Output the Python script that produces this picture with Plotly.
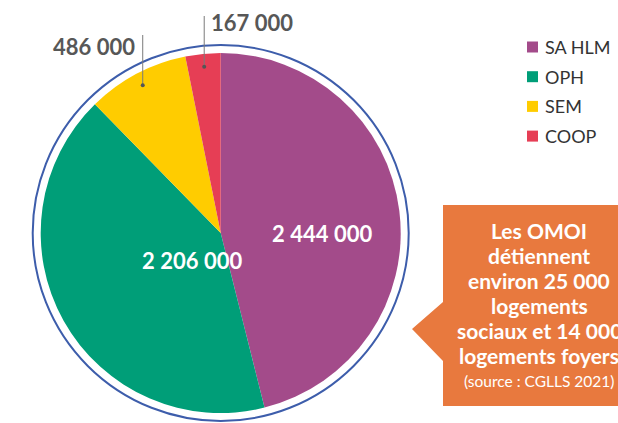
import math
import plotly.graph_objects as go

# Parc social par famille d'organismes
categories = ["SA HLM", "OPH", "SEM", "COOP"]
logements = [2444000, 2206000, 486000, 167000]
colors = ["#A34B8A", "#009E78", "#FFCC00", "#E63E55"]

W, H = 618, 423
CX, CY, R = 220.7, 233.0, 180.0   # pie centre / radius in pixels


def px(x):
    return x / W


def py(y):
    return (H - y) / H


def fmt(v):
    return f"{v:,}".replace(",", "\u202f")


fig = go.Figure()
fig.add_trace(go.Pie(
    labels=categories,
    values=logements,
    marker=dict(colors=colors, line=dict(width=0)),
    sort=False,
    direction="clockwise",
    rotation=0,
    textinfo="none",
    hoverinfo="label+value",
    showlegend=False,
    domain=dict(x=[px(CX - R), px(CX + R)], y=[py(CY + R), py(CY - R)]),
))

# outer ring
RING = 188
fig.add_shape(type="circle", xref="paper", yref="paper",
              x0=px(CX - RING), x1=px(CX + RING),
              y0=py(CY + RING), y1=py(CY - RING),
              line=dict(color="#3D5DAB", width=2))

annotations = []
# values written inside the two large slices
inside_pos = {0: (322, 233), 1: (140, 260)}
for i, (x, y) in inside_pos.items():
    annotations.append(dict(x=px(x), y=py(y), xref="paper", yref="paper",
                            text=f"<b>{fmt(logements[i])}</b>", showarrow=False,
                            font=dict(family="Lato", size=22, color="white")))

# leader lines for the two small slices, anchored on each slice's mid angle
total = sum(logements)
cum = 0
mids = []
for v in logements:
    mids.append((cum + v / 2) / total * 360)
    cum += v
leaders = {2: dict(top=35, label_x=137, label_y=46, anchor="right"),
           3: dict(top=16, label_x=209, label_y=23, anchor="left")}
for i, d in leaders.items():
    a = math.radians(mids[i])
    dx = CX + math.sin(a) * R * 167 / 180
    dy = CY - math.cos(a) * R * 167 / 180
    fig.add_shape(type="line", xref="paper", yref="paper",
                  x0=px(dx), x1=px(dx), y0=py(dy), y1=py(d["top"]),
                  line=dict(color="#7A7A7A", width=1))
    fig.add_shape(type="circle", xref="paper", yref="paper",
                  x0=px(dx - 2), x1=px(dx + 2), y0=py(dy + 2), y1=py(dy - 2),
                  fillcolor="#555555", line=dict(width=0))
    annotations.append(dict(x=px(d["label_x"]), y=py(d["label_y"]),
                            xref="paper", yref="paper",
                            xanchor=d["anchor"], yanchor="middle",
                            text=f"<b>{fmt(logements[i])}</b>", showarrow=False,
                            font=dict(family="Lato", size=22, color="#575757")))

# legend: coloured squares with category names
for k, (name, col) in enumerate(zip(categories, colors)):
    yc = 47 + 29.7 * k
    fig.add_shape(type="rect", xref="paper", yref="paper",
                  x0=px(527), x1=px(538), y0=py(yc + 5.5), y1=py(yc - 5.5),
                  fillcolor=col, line=dict(width=0))
    annotations.append(dict(x=px(543), y=py(yc), xref="paper", yref="paper",
                            text=name, showarrow=False,
                            xanchor="left", yanchor="middle",
                            font=dict(family="Lato", size=18, color="#333333")))

# callout box
pts = [(443, 205), (630, 205), (630, 406), (443, 406), (443, 361),
       (412, 329), (443, 302)]
path = "M " + " L ".join(f"{px(x)},{py(y)}" for x, y in pts) + " Z"
fig.add_shape(type="path", xref="paper", yref="paper", path=path,
              fillcolor="#E8793E", line=dict(width=0), layer="above")

callout_lines = ["Les OMOI", "détiennent", "environ 25 000", "logements",
                 "sociaux et 14 000", "logements foyers"]
for k, line in enumerate(callout_lines):
    annotations.append(dict(x=px(539), y=py(230 + 25 * k), xref="paper", yref="paper",
                            text=f"<b>{line}</b>", showarrow=False,
                            xanchor="center", yanchor="middle",
                            font=dict(family="Lato", size=21, color="white")))
annotations.append(dict(x=px(539), y=py(381), xref="paper", yref="paper",
                        text="(source : CGLLS 2021)", showarrow=False,
                        xanchor="center", yanchor="middle",
                        font=dict(family="Lato", size=15.5, color="white")))

fig.update_layout(
    width=W, height=H,
    margin=dict(l=0, r=0, t=0, b=0),
    paper_bgcolor="white",
    plot_bgcolor="white",
    font=dict(family="Lato", color="#333333"),
    annotations=annotations,
)

fig.write_html("out.html")
